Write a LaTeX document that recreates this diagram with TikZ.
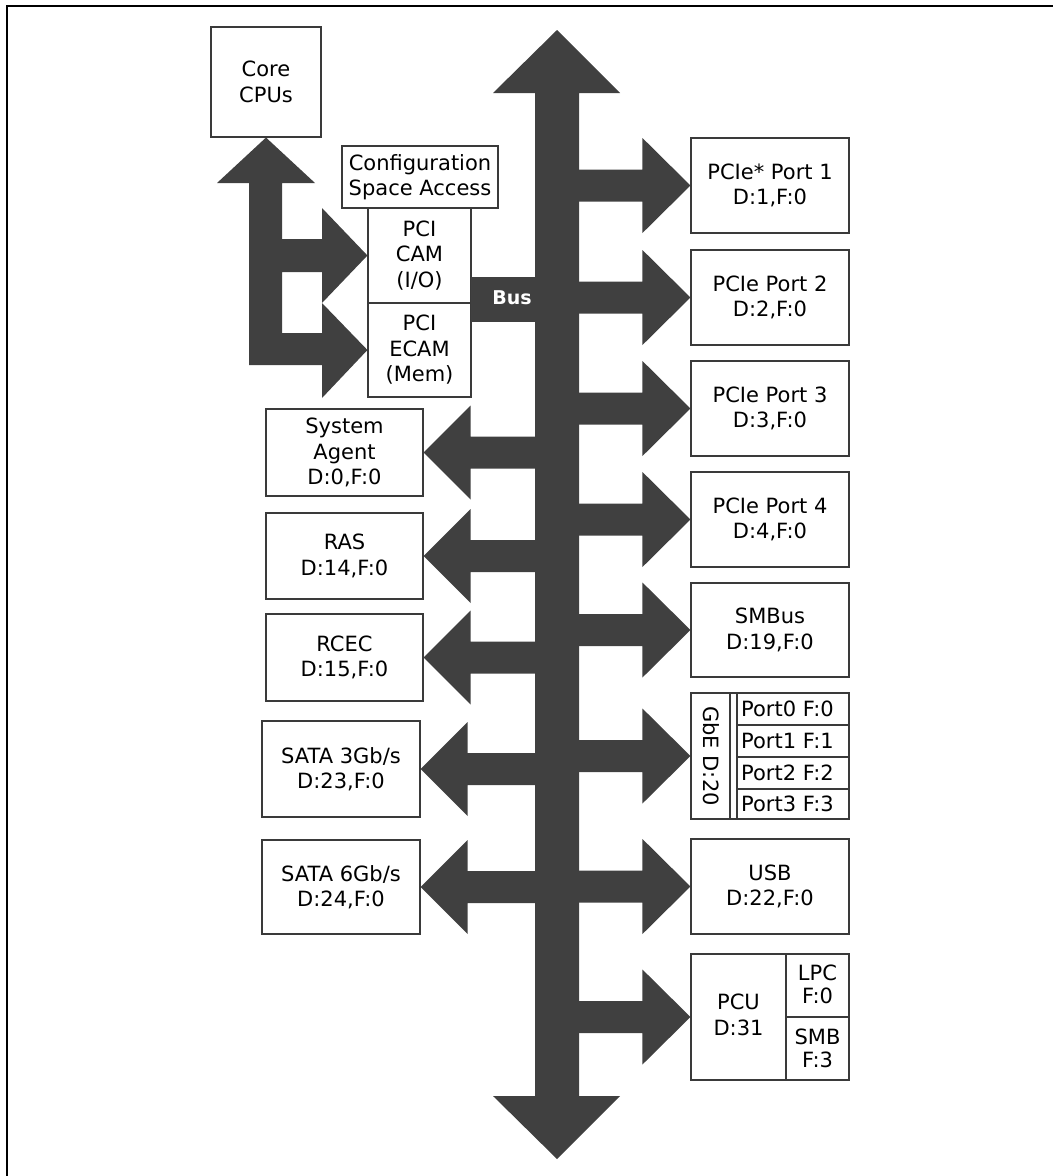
\documentclass[tikz,border=0pt]{standalone}
\usepackage{fontspec}
\setmainfont{DejaVu Sans}
\usetikzlibrary{calc}
\definecolor{busc}{HTML}{404040}
\definecolor{edge}{HTML}{3A3A3A}
\newcommand\rightarm[1]{\fill[bus] ($(#1.west -| sR)+(0pt,16pt)$) -- ($(#1.west)+(-48pt,16pt)$) -- ($(#1.west)+(-48pt,47.5pt)$) -- (#1.west) -- ($(#1.west)+(-48pt,-47.5pt)$) -- ($(#1.west)+(-48pt,-16pt)$) -- ($(#1.west -| sR)+(0pt,-16pt)$) -- cycle;}
\newcommand\leftarm[1]{\fill[bus] ($(#1.east -| sL)+(0pt,16pt)$) -- ($(#1.east)+(47pt,16pt)$) -- ($(#1.east)+(47pt,47pt)$) -- (#1.east) -- ($(#1.east)+(47pt,-47pt)$) -- ($(#1.east)+(47pt,-16pt)$) -- ($(#1.east -| sL)+(0pt,-16pt)$) -- cycle;}
\begin{document}
\begin{tikzpicture}[x=1pt,y=-1pt,
  box/.style={draw=edge,line width=1.1pt,fill=white,align=center,inner sep=0pt,text=black,font=\fontsize{21}{25.5}\selectfont},
  txt/.style={align=center,inner sep=0pt,text=black,font=\fontsize{21}{25.5}\selectfont},
  bus/.style={fill=busc},
  thin/.style={draw=edge,line width=1.1pt}]
\useasboundingbox (0,0) rectangle (1053,1176);
\draw[line width=2pt] (7,1176) -- (7,6) -- (1053,6);
\coordinate (sR) at (578,0);
\coordinate (sL) at (536,0);
% main bus shaft
\fill[bus] (557,30) -- (620,93) -- (579,93) -- (579,1096) -- (620,1096) -- (557,1159) -- (493,1096) -- (535,1096) -- (535,93) -- (493,93) -- cycle;
% top-left boxes
\node[box,minimum width=110pt,minimum height=110pt] (core) at (266,82) {Core\\CPUs};
\node[box,minimum width=156pt,minimum height=62pt] (cfg) at (420,177) {Configuration\\Space Access};
\node[box,minimum width=103pt,minimum height=95pt] (cam) at (419.5,255.5) {PCI\\CAM\\(I/O)};
\node[box,minimum width=103pt,minimum height=94pt] (ecam) at (419.5,350) {PCI\\ECAM\\(Mem)};
% left boxes
\node[box,minimum width=157pt,minimum height=87pt] (sa) at (344.5,452.5) {System\\Agent\\D:0,F:0};
\node[box,minimum width=157pt,minimum height=86pt] (ras) at (344.5,556) {RAS\\D:14,F:0};
\node[box,minimum width=157pt,minimum height=87pt] (rcec) at (344.5,657.5) {RCEC\\D:15,F:0};
\node[box,minimum width=158pt,minimum height=96pt] (sata3) at (341,769) {SATA 3Gb/s\\D:23,F:0};
\node[box,minimum width=158pt,minimum height=94pt] (sata6) at (341,887) {SATA 6Gb/s\\D:24,F:0};
% right boxes
\node[box,minimum width=158pt,minimum height=95pt] (p1) at (770,185.5) {PCIe* Port 1\\D:1,F:0};
\node[box,minimum width=158pt,minimum height=95pt] (p2) at (770,297.5) {PCIe Port 2\\D:2,F:0};
\node[box,minimum width=158pt,minimum height=95pt] (p3) at (770,408.5) {PCIe Port 3\\D:3,F:0};
\node[box,minimum width=158pt,minimum height=95pt] (p4) at (770,519.5) {PCIe Port 4\\D:4,F:0};
\node[box,minimum width=158pt,minimum height=94pt] (smb) at (770,630) {SMBus\\D:19,F:0};
\node[box,minimum width=158pt,minimum height=126pt] (gbe) at (770,756) {};
\node[box,minimum width=158pt,minimum height=95pt] (usb) at (770,886.5) {USB\\D:22,F:0};
\node[box,minimum width=158pt,minimum height=126pt] (pcu) at (770,1017) {};
% GbE internals
\draw[thin] (730,693) -- (730,819) (737,693) -- (737,819) (737,725) -- (849,725) (737,757) -- (849,757) (737,789) -- (849,789);
\node[txt,rotate=-90] (gbel) at (711,756) {GbE D:20};
\node[txt,anchor=west] (g0) at (741,709) {Port0 F:0};
\node[txt,anchor=west] (g1) at (741,741) {Port1 F:1};
\node[txt,anchor=west] (g2) at (741,773) {Port2 F:2};
\node[txt,anchor=west] (g3) at (741,804) {Port3 F:3};
% PCU internals
\draw[thin] (786,954) -- (786,1080) (786,1017) -- (849,1017);
\node[txt] (pcul) at (738.5,1015) {PCU\\D:31};
\node[txt,font=\fontsize{21}{23}\selectfont] (lpc) at (817.5,984) {LPC\\F:0};
\node[txt,font=\fontsize{21}{23}\selectfont] (smbf) at (817.5,1048) {SMB\\F:3};
% arms
\rightarm{p1}\rightarm{p2}\rightarm{p3}\rightarm{p4}\rightarm{smb}\rightarm{gbe}\rightarm{usb}\rightarm{pcu}
\leftarm{sa}\leftarm{ras}\leftarm{rcec}\leftarm{sata3}\leftarm{sata6}
% core CPU access arrow
\fill[bus] (core.south) -- (315,183) -- (282,183) -- (282,239) -- (322,239) -- (322,208) -- (cam.west) -- (322,303) -- (322,272) -- (282,272) -- (282,333) -- (322,333) -- (322,303) -- (ecam.west) -- (322,398) -- (322,365) -- (249,365) -- (249,183) -- (217,183) -- cycle;
% bus stub
\fill[bus] (471,277) rectangle (536,322);
\node[text=white,inner sep=0pt,font=\bfseries\fontsize{19}{19}\selectfont] (buslbl) at (512,298) {Bus};
\end{tikzpicture}
\end{document}
